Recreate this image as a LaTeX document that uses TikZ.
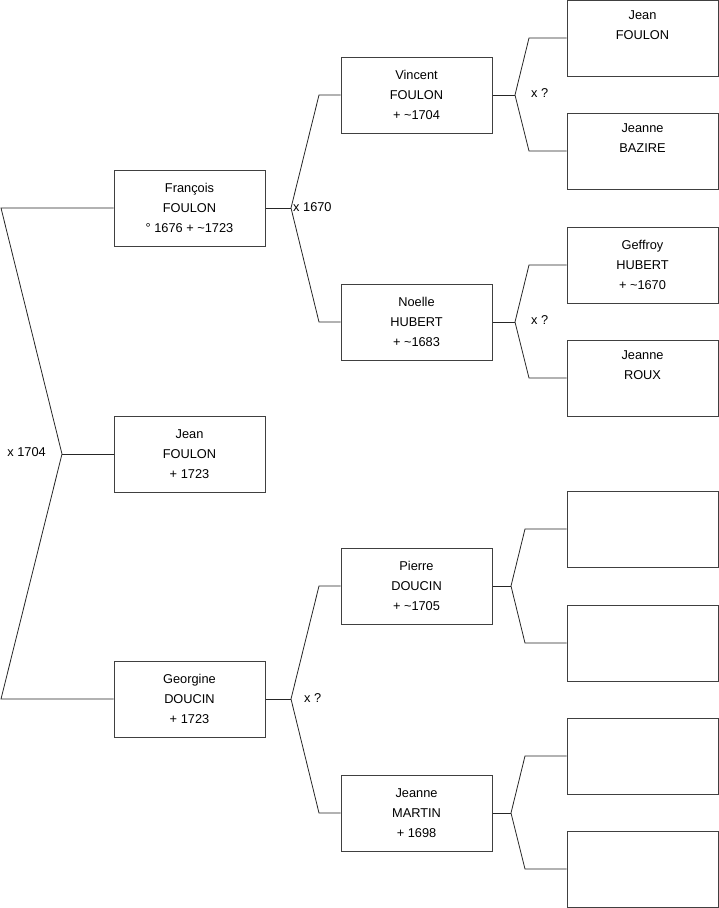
\documentclass[tikz,border=0pt]{standalone}
\usepackage{fontspec}
\setmainfont{Liberation Sans}
\usepackage{tikz}
\usetikzlibrary{positioning}

\tikzset{
    person/.style={draw=black!75, line width=1pt, minimum width=151pt, minimum height=76pt,
        inner sep=0pt, align=center, font=\fontsize{12.8}{20}\selectfont},
    link/.style={draw=black!85, line width=0.8pt},
    wed/.style={inner sep=0pt, font=\fontsize{12.8}{14}\selectfont}
}

\begin{document}
\begin{tikzpicture}[x=1pt, y=-1pt]
    \useasboundingbox (0,0) rectangle (719,908);

    % Generation 1
    \node[person] (francois) at (189.5,208) {François\\FOULON\\° 1676 + \textasciitilde1723};
    \node[person] (jean) at (189.5,454) {Jean\\FOULON\\+ 1723};
    \node[person] (georgine) at (189.5,699) {Georgine\\DOUCIN\\+ 1723};

    % Generation 2
    \node[person] (vincent) at (416.5,95) {Vincent\\FOULON\\+ \textasciitilde1704};
    \node[person] (noelle) at (416.5,322) {Noelle\\HUBERT\\+ \textasciitilde1683};
    \node[person] (pierre) at (416.5,586) {Pierre\\DOUCIN\\+ \textasciitilde1705};
    \node[person] (jmartin) at (416.5,813) {Jeanne\\MARTIN\\+ 1698};

    % Generation 3
    \node[person] (jfoulon) at (642.5,38) {Jean\\FOULON\\\strut};
    \node[person] (jbazire) at (642.5,151) {Jeanne\\BAZIRE\\\strut};
    \node[person] (geffroy) at (642.5,265) {Geffroy\\HUBERT\\+ \textasciitilde1670};
    \node[person] (jroux) at (642.5,378) {Jeanne\\ROUX\\\strut};
    \node[person] (pfather) at (642.5,529) {};
    \node[person] (pmother) at (642.5,643) {};
    \node[person] (mfather) at (642.5,756) {};
    \node[person] (mmother) at (642.5,869) {};

    % Bracket points
    \coordinate (m1) at (62,454);
    \coordinate (m1a) at (1,208);
    \coordinate (m1b) at (1,699);
    \coordinate (m2) at (291,208);
    \coordinate (m2a) at (319,95);
    \coordinate (m2b) at (319,322);
    \coordinate (m3) at (291,699);
    \coordinate (m3a) at (319,586);
    \coordinate (m3b) at (319,813);
    \coordinate (m4) at (515,95);
    \coordinate (m4a) at (529,38);
    \coordinate (m4b) at (529,151);
    \coordinate (m5) at (515,322);
    \coordinate (m5a) at (529,265);
    \coordinate (m5b) at (529,378);
    \coordinate (m6) at (511,586);
    \coordinate (m6a) at (525,529);
    \coordinate (m6b) at (525,643);
    \coordinate (m7) at (511,813);
    \coordinate (m7a) at (525,756);
    \coordinate (m7b) at (525,869);

    % Connections
    \draw[link] (francois.west) -- (m1a) -- (m1) -- (m1b) -- (georgine.west);
    \draw[link] (m1) -- (jean.west);
    \draw[link] (francois.east) -- (m2);
    \draw[link] (vincent.west) -- (m2a) -- (m2) -- (m2b) -- (noelle.west);
    \draw[link] (georgine.east) -- (m3);
    \draw[link] (pierre.west) -- (m3a) -- (m3) -- (m3b) -- (jmartin.west);
    \draw[link] (vincent.east) -- (m4);
    \draw[link] (jfoulon.west) -- (m4a) -- (m4) -- (m4b) -- (jbazire.west);
    \draw[link] (noelle.east) -- (m5);
    \draw[link] (geffroy.west) -- (m5a) -- (m5) -- (m5b) -- (jroux.west);
    \draw[link] (pierre.east) -- (m6);
    \draw[link] (pfather.west) -- (m6a) -- (m6) -- (m6b) -- (pmother.west);
    \draw[link] (jmartin.east) -- (m7);
    \draw[link] (mfather.west) -- (m7a) -- (m7) -- (m7b) -- (mmother.west);

    % Marriages
    \node[wed, anchor=east] (w1) at (46,452) {x 1704};
    \node[wed, anchor=west] (w2) at (293,207) {x 1670};
    \node[wed, anchor=west] (w3) at (304,698) {x ?};
    \node[wed, anchor=west] (w4) at (531,93) {x ?};
    \node[wed, anchor=west] (w5) at (531,320) {x ?};
\end{tikzpicture}
\end{document}
